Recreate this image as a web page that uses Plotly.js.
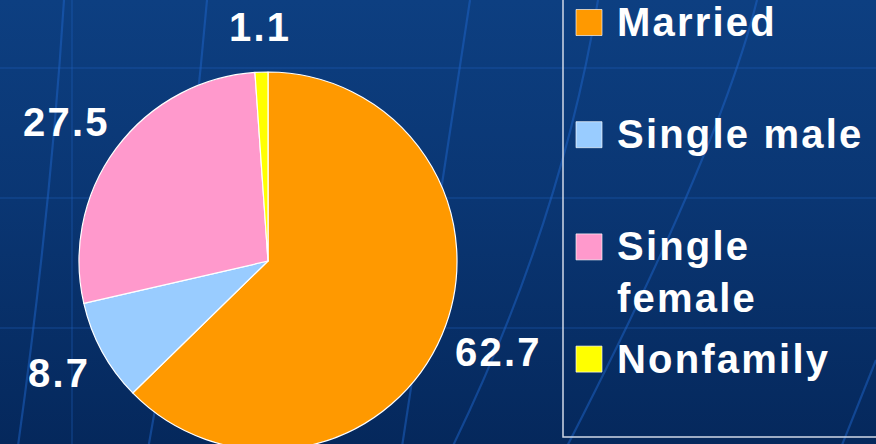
<!DOCTYPE html>
<html>
<head>
<meta charset="utf-8">
<script src="https://cdn.plot.ly/plotly-3.0.1.min.js"></script>
<style>
  html, body { margin: 0; padding: 0; width: 876px; height: 444px; overflow: hidden; }
  body { background: linear-gradient(to bottom, #0d3f81 0%, #0a3673 45%, #05285c 100%); }
  #chart { width: 876px; height: 460px; }
  text.annotation-text { letter-spacing: 2.2px; }
</style>
</head>
<body>
<div id="chart"></div>
<script>
// ---- data ----
const categories = ["Married", "Single male", "Single female", "Nonfamily"];
const values = [62.7, 8.7, 27.5, 1.1];
const valueLabels = ["62.7", "8.7", "27.5", "1.1"];
const legendLabels = ["Married", "Single male", "Single<br>female", "Nonfamily"];
const colors = ["#FF9900", "#99CCFF", "#FF99CC", "#FFFF00"];

// ---- geometry / style ----
const W = 876, H = 460;
const cx = 268, cy = 261, r = 189;
const px = x => x / W;
const py = y => (H - y) / H;
const FONT = "Liberation Sans, Arial, Helvetica, sans-serif";
const labelSize = 40, legendSize = 40;

const pie = {
  type: "pie",
  labels: categories,
  values: values,
  sort: false,
  direction: "clockwise",
  rotation: 0,
  marker: { colors: colors, line: { color: "#FFFFFF", width: 1.2 } },
  textinfo: "none",
  hoverinfo: "label+value",
  showlegend: false,
  domain: { x: [px(cx - r), px(cx + r)], y: [py(cy + r), py(cy - r)] }
};

// value labels placed just outside each slice's mid-angle
const total = values.reduce((a, b) => a + b, 0);
let cum = 0;
const annotations = [];
const textHalfWidth = t => {
  let w = 0;
  for (const ch of t) w += (ch === "." ? 0.278 : 0.556) * labelSize + 2.2;
  return w / 2;
};
values.forEach((v, i) => {
  const theta = 2 * Math.PI * (cum + v / 2) / total;
  cum += v;
  const s = Math.sin(theta), c = -Math.cos(theta);
  const hw = textHalfWidth(valueLabels[i]), hh = 27, gap = 18;
  annotations.push({
    xref: "paper", yref: "paper",
    x: px(cx + s * (r + gap + hw)), y: py(cy + c * (r + gap + hh)),
    xanchor: "center", yanchor: "middle",
    text: valueLabels[i], showarrow: false, borderpad: 0,
    font: { family: FONT, size: labelSize, color: "#FFFFFF", weight: "bold" }
  });
});

// background decoration + legend frame/swatches
const shapes = [];
const bgLine = { color: "rgba(34,100,196,0.32)", width: 1.5 };
[68, 198, 328].forEach(y => shapes.push({ type: "line", xref: "paper", yref: "paper", layer: "below",
  x0: 0, x1: 1, y0: py(y), y1: py(y), line: bgLine }));
shapes.push({ type: "line", xref: "paper", yref: "paper", layer: "below",
  x0: px(72), x1: px(72), y0: py(0), y1: py(460), line: { color: "rgba(34,100,196,0.45)", width: 1.2 } });
const curve = (a, b, e) => `M${px(a[0])},${py(a[1])} Q${px(b[0])},${py(b[1])} ${px(e[0])},${py(e[1])}`;
const streak = { color: "rgba(30,100,200,0.5)", width: 2.2 };
[
  [[64, 0], [50, 220], [16, 460]],
  [[207, 0], [185, 250], [146, 460]],
  [[470, 0], [440, 200], [400, 460]],
  [[598, 0], [560, 230], [446, 460]],
  [[757, 0], [720, 150], [560, 460]],
  [[876, 360], [860, 400], [836, 460]]
].forEach(p => shapes.push({ type: "path", xref: "paper", yref: "paper", layer: "below",
  path: curve(p[0], p[1], p[2]), line: streak }));

// legend frame
shapes.push({ type: "rect", xref: "paper", yref: "paper",
  x0: px(563), x1: px(900), y0: py(437), y1: py(-20),
  line: { color: "#D0D8E6", width: 1.5 }, fillcolor: "rgba(0,0,0,0)" });

const legendTop = 22.5, legendStep = 112.2, sw = 26;
categories.forEach((cat, i) => {
  const yc = legendTop + i * legendStep;
  shapes.push({ type: "rect", xref: "paper", yref: "paper",
    x0: px(576), x1: px(576 + sw), y0: py(yc + sw / 2), y1: py(yc - sw / 2),
    fillcolor: colors[i], line: { color: "rgba(255,255,255,0.65)", width: 1 } });
  annotations.push({
    xref: "paper", yref: "paper",
    x: px(616), y: py(yc - 23.5),
    xanchor: "left", yanchor: "top", align: "left",
    text: legendLabels[i], showarrow: false, borderpad: 0,
    font: { family: FONT, size: legendSize, color: "#FFFFFF", weight: "bold" }
  });
});

const layout = {
  width: W, height: H,
  margin: { l: 0, r: 0, t: 0, b: 0 },
  paper_bgcolor: "rgba(0,0,0,0)",
  plot_bgcolor: "rgba(0,0,0,0)",
  showlegend: false,
  shapes: shapes,
  annotations: annotations
};

Plotly.newPlot("chart", [pie], layout, { displayModeBar: false, staticPlot: true });
</script>
</body>
</html>
